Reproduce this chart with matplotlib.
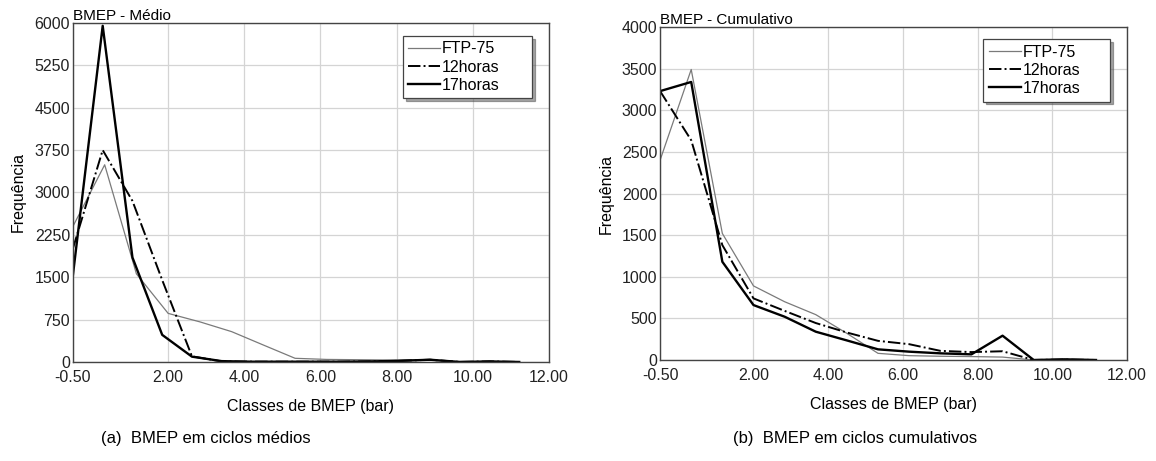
import numpy as np
import matplotlib
matplotlib.use("Agg")
import matplotlib.pyplot as plt

plt.rcParams['font.family'] = ['Liberation Sans', 'DejaVu Sans']

# classes de BMEP (bar)
x_ftp = [-0.5 + k * 12.5 / 15 for k in range(15)]
x_med = [-0.5 + k * 12.5 / 16 for k in range(16)]

# BMEP - Médio
med_ftp = [2400, 3490, 1560, 860, 710, 537, 300, 65, 45, 40, 35, 40, 10, 5, 0]
med_12h = [2010, 3750, 2850, 1450, 100, 10, 5, 5, 5, 5, 10, 20, 40, 0, 10, 0]
med_17h = [1540, 5950, 1850, 480, 94, 15, 5, 5, 5, 5, 10, 20, 40, 0, 10, 0]

# BMEP - Cumulativo
cum_ftp = [2400, 3490, 1520, 890, 700, 545, 320, 80, 52, 45, 41, 35, 0, 5, 0]
cum_12h = [3230, 2640, 1380, 740, 590, 444, 330, 230, 190, 110, 95, 105, 0, 5, 0]
cum_17h = [3230, 3340, 1180, 660, 520, 340, 235, 128, 100, 80, 68, 292, 0, 8, 0]

xticks = [-0.5, 2, 4, 6, 8, 10, 12]

fig = plt.figure(figsize=(11.56, 4.61), dpi=100)
ax1 = fig.add_axes([0.0631, 0.2148, 0.4118, 0.7354])
ax2 = fig.add_axes([0.571, 0.2191, 0.404, 0.7223])

panels = [
    (ax1, x_ftp, x_med, med_ftp, med_12h, med_17h, "BMEP - Médio", 6000, 750, 0.693, 0.962),
    (ax2, x_ftp, x_ftp, cum_ftp, cum_12h, cum_17h, "BMEP - Cumulativo", 4000, 500, 0.692, 0.964),
]

for ax, xa, xb, ftp, h12, h17, titulo, ymax, ystep, lx, ly in panels:
    ax.plot(xa, ftp, color='#7a7a7a', lw=0.9, label="FTP-75")
    ax.plot(xb, h12, color='black', lw=1.4, ls='-.', label="12horas")
    ax.plot(xb, h17, color='black', lw=1.7, label="17horas")
    ax.set_xlim(-0.5, 12)
    ax.set_ylim(0, ymax)
    ax.set_xticks(xticks)
    ax.set_xticklabels(["%.2f" % v for v in xticks])
    ax.set_yticks(np.arange(0, ymax + 1, ystep))
    ax.tick_params(length=0, labelsize=11.5, colors='#222222')
    ax.tick_params(axis='x', pad=6)
    ax.tick_params(axis='y', pad=2)
    ax.grid(color='#d4d4d4', lw=0.9)
    ax.set_axisbelow(True)
    for s in ax.spines.values():
        s.set_color('#444444')
        s.set_linewidth(1.0)
    ax.set_title(titulo, loc='left', fontsize=11, pad=1)
    ax.set_xlabel("Classes de BMEP (bar)", fontsize=11.5, labelpad=10)
    ax.set_ylabel("Frequência", fontsize=11.5, labelpad=6)
    leg = ax.legend(loc='upper left', bbox_to_anchor=(lx, ly, 0.271, 0), mode='expand',
                    fontsize=11.5, fancybox=False, shadow=True, edgecolor='#444444',
                    handlelength=2.0, handletextpad=0.1, borderpad=0.35,
                    labelspacing=0.2, borderaxespad=0)
    leg.get_frame().set_linewidth(0.9)

fig.text(0.178, 0.04, "(a)  BMEP em ciclos médios", ha='center', fontsize=12)
fig.text(0.74, 0.04, "(b)  BMEP em ciclos cumulativos", ha='center', fontsize=12)

fig.savefig("out.png", dpi=100)
